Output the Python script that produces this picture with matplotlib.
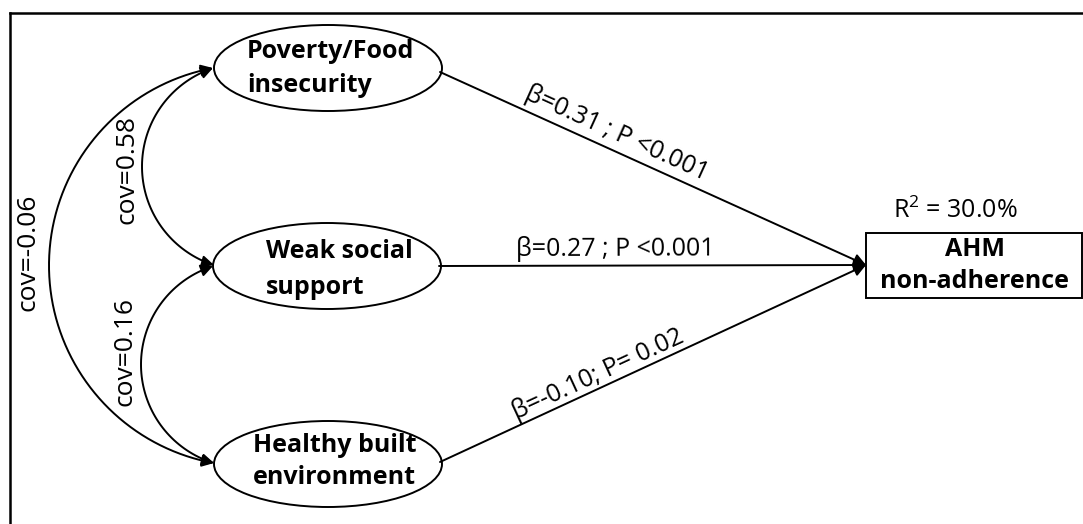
import math
import numpy as np
import matplotlib
matplotlib.use("Agg")
import matplotlib.pyplot as plt
from matplotlib.patches import Ellipse, Rectangle, FancyArrowPatch
from matplotlib.path import Path

plt.rcParams['font.family'] = ['Open Sans', 'DejaVu Sans']
plt.rcParams['mathtext.fontset'] = 'custom'
plt.rcParams['mathtext.rm'] = 'Open Sans'
plt.rcParams['mathtext.it'] = 'Open Sans'

# path model values
predictors = ["Poverty/Food\ninsecurity", "Weak social\nsupport", "Healthy built\nenvironment"]
betas = [0.31, 0.27, -0.10]
p_labels = [" ; P <0.001", " ; P <0.001", "; P= 0.02"]
covs = [0.58, 0.16, -0.06]
cov_pairs = [(0, 1), (1, 2), (0, 2)]
outcome = "AHM\nnon-adherence"
r2 = 30.0

# layout (pixel coords, y down)
W, H = 1083, 524
centers = [(328, 68), (327, 266), (328, 464)]
ell_w, ell_h = 228, 86
text_x = [247, 266, 253]
line_y = [(52, 85), (252, 288), (445, 478)]
target = (866, 265)
box = (866, 233, 216, 65)
arc_left = [142, 141, 49]            # leftmost x of each covariance arc
cov_text_pos = [(127, 170), (125, 352), (28, 252)]
beta_text_pos = [(617, 133), (615, 249), (598, 374)]

fig = plt.figure(figsize=(W / 100, H / 100), dpi=100)
ax = fig.add_axes([0, 0, 1, 1])
ax.set_xlim(0, W)
ax.set_ylim(H, 0)
ax.axis("off")

lw = 1.4
# outer frame (only top and left are inside the picture)
ax.plot([10, 1082], [12.5, 12.5], color="black", lw=1.8)
ax.plot([10, 10], [12.5, H], color="black", lw=1.8)

head = "-|>,head_length=0.6,head_width=0.3"


def arc_path(a, b, xl, n=80):
    # circular arc from a to b bulging left to x = xl
    (xa, ya), (xb, yb) = a, b
    m = (ya + yb) / 2
    h = (yb - ya) / 2
    s = (xa + xb) / 2 - xl
    r = (h * h + s * s) / (2 * s)
    cx, cy = xl + r, m
    ta = math.atan2(ya - cy, xa - cx) % (2 * math.pi)
    tb = math.atan2(yb - cy, xb - cx) % (2 * math.pi)
    t = np.linspace(ta, tb, n)
    verts = np.column_stack([cx + r * np.cos(t), cy + r * np.sin(t)])
    verts[0] = a
    verts[-1] = b
    return Path(verts)


for i, name in enumerate(predictors):
    cx, cy = centers[i]
    ax.add_patch(Ellipse((cx, cy), ell_w, ell_h, fill=False, lw=lw, ec="black"))
    for txt, ty in zip(name.split("\n"), line_y[i]):
        ax.text(text_x[i], ty, txt, ha="left", va="center",
                fontsize=18, fontweight="bold")

    # path to outcome
    start = (cx + ell_w / 2 - 2, cy + (4 if i == 0 else 0) - (2 if i == 2 else 0))
    ax.add_patch(FancyArrowPatch(start, target, arrowstyle=head, mutation_scale=12,
                                 lw=lw, color="black", shrinkA=0, shrinkB=0))

    ang = -math.degrees(math.atan2(target[1] - start[1], target[0] - start[0]))
    bx, by = beta_text_pos[i]
    ax.text(bx, by, f"β={betas[i]:.2f}{p_labels[i]}", ha="center", va="center",
            rotation=ang, rotation_mode="anchor", fontsize=18)

# covariance arcs
left_x = 213
for (a, b), c, xl, (tx, ty) in zip(cov_pairs, covs, arc_left, cov_text_pos):
    pa = (left_x, centers[a][1])
    pb = (left_x + 1, centers[b][1] - 1)
    ax.add_patch(FancyArrowPatch(path=arc_path(pa, pb, xl),
                                 arrowstyle="<|-|>,head_length=0.6,head_width=0.3",
                                 mutation_scale=12, lw=lw, color="black"))
    ax.text(tx, ty, f"cov={c:.2f}", ha="center", va="center", rotation=90, fontsize=19)

# outcome box
bx0, by0, bw, bh = box
ax.add_patch(Rectangle((bx0, by0), bw, bh, fill=False, lw=lw, ec="black"))
o1, o2 = outcome.split("\n")
ax.text(975, 249, o1, ha="center", va="center", fontsize=18, fontweight="bold")
ax.text(975, 281, o2, ha="center", va="center", fontsize=18, fontweight="bold")
ax.text(955, 211, "R$^{2}$" + f" = {r2:.1f}%", ha="center", va="center", fontsize=18)

fig.savefig("out.png", dpi=100)
